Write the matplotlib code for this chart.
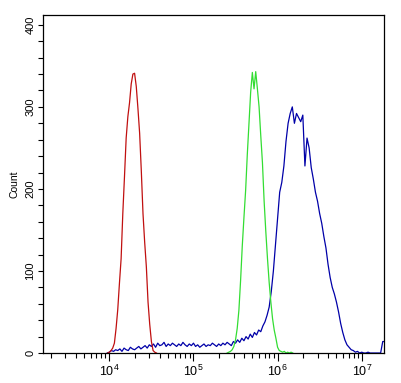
import numpy as np
import matplotlib
matplotlib.use("Agg")
import matplotlib.pyplot as plt
from matplotlib.ticker import FixedLocator, NullFormatter, LogLocator

plt.rcParams['font.family'] = ['Liberation Sans', 'DejaVu Sans']
plt.rcParams['mathtext.fontset'] = 'custom'
plt.rcParams['mathtext.rm'] = 'Liberation Sans'

# ---- data (log10 of fluorescence, counts) ----
red_start, red_step = 3.98, 0.02
red_counts = [0, 1, 3, 6, 12, 30, 53, 85, 115, 170, 215, 262, 288, 305, 328, 340,
              341, 325, 298, 268, 222, 170, 135, 105, 62, 35, 14, 3, 1, 0]

green_start, green_step = 5.40, 0.02
green_counts = [0, 1, 2, 4, 8, 16, 30, 52, 88, 130, 165, 198, 242, 280, 318, 342,
                322, 343, 322, 300, 265, 232, 185, 148, 115, 86, 62, 42, 28, 18,
                7, 3, 2, 1, 2, 0, 1, 0, 1, 0]

blue_start, blue_step = 3.975, 0.025
blue_counts = [0, 1, 3, 2, 4, 3, 5, 2, 6, 4, 3, 7, 5, 4, 6, 8, 5, 7, 9, 6,
               10, 8, 11, 7, 12, 9, 10, 13, 8, 11, 9, 12, 10, 8, 11, 9, 13, 10, 8, 11,
               9, 12, 8, 10, 7, 9, 11, 8, 10, 9, 12, 10, 8, 11, 9, 12, 10, 13, 11, 9,
               14, 12, 16, 13, 18, 15, 20, 17, 23, 19, 25, 22, 28, 26, 33, 38, 46, 56, 75, 100,
               132, 165, 196, 208, 228, 258, 280, 292, 300, 280, 292, 287, 282, 290, 228, 262,
               250, 226, 212, 196, 185, 170, 158, 142, 128, 108, 92, 80, 72, 62, 50, 36,
               25, 16, 10, 7, 4, 3, 1, 2, 0, 1, 0, 0, 1, 0, 0, 0, 0, 0, 0, 14, 14]

xtick_exps = [4, 5, 6, 7]
ytick_vals = [0, 100, 200, 300, 400]


def xs(start, step, counts):
    return 10 ** (start + step * np.arange(len(counts)))


fig = plt.figure(figsize=(4.01, 3.83), dpi=100)
ax = fig.add_axes([0.108, 0.0783, 0.8496, 0.8825])

ax.plot(xs(blue_start, blue_step, blue_counts), blue_counts, color='#0000a8', lw=0.9)
ax.plot(xs(green_start, green_step, green_counts), green_counts, color='#33dd33', lw=0.9)
ax.plot(xs(red_start, red_step, red_counts), red_counts, color='#c01010', lw=0.9)

ax.set_xscale('log')
ax.set_xlim(10 ** 3.215, 10 ** 7.265)
ax.set_ylim(0, 412)

ax.xaxis.set_major_locator(FixedLocator([10.0 ** e for e in xtick_exps]))
ax.set_xticklabels([r'$\mathregular{10^{%d}}$' % e for e in xtick_exps], fontsize=9)
ax.xaxis.set_minor_locator(LogLocator(base=10, subs=np.arange(2, 10), numticks=20))
ax.xaxis.set_minor_formatter(NullFormatter())

ax.yaxis.set_major_locator(FixedLocator(ytick_vals))
ax.yaxis.set_minor_locator(FixedLocator(np.arange(0, 420, 20)))
ax.set_yticklabels([str(v) for v in ytick_vals], fontsize=8, rotation=90, va='center')

ax.tick_params(axis='x', which='major', length=6, width=0.8, pad=2)
ax.tick_params(axis='x', which='minor', length=3.5, width=0.8)
ax.tick_params(axis='y', which='both', length=3.8, width=0.8, pad=2)

ax.set_ylabel('Count', fontsize=7.5, labelpad=4)

for s in ax.spines.values():
    s.set_linewidth(0.9)

fig.savefig('out.png', dpi=100)
